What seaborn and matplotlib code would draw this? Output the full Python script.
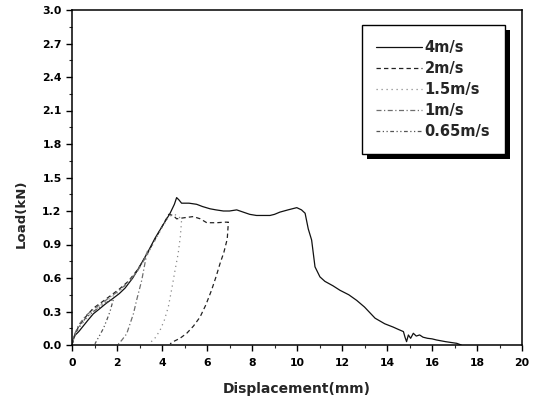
import matplotlib
matplotlib.use("Agg")
import matplotlib.pyplot as plt
from matplotlib.patches import Rectangle
from matplotlib.transforms import IdentityTransform
from matplotlib.ticker import MultipleLocator, FormatStrFormatter
import seaborn as sns
import pandas as pd

# Load-displacement records for each impact speed
speeds = ["4m/s", "2m/s", "1.5m/s", "1m/s", "0.65m/s"]

disp_4 = [0, 0.05, 0.15, 0.3, 0.5, 0.7, 0.95, 1.2, 1.5, 1.84, 2.1, 2.36, 2.7, 3.0, 3.39,
          3.7, 4.0, 4.36, 4.55, 4.65, 4.75, 4.87, 5.2, 5.54, 5.8, 6.13, 6.4, 6.73, 7.0,
          7.32, 7.61, 7.9, 8.2, 8.5, 8.8, 9.0, 9.24, 9.6, 9.99, 10.2, 10.36, 10.5, 10.65,
          10.8, 11.02, 11.24, 11.6, 11.91, 12.3, 12.65, 13.0, 13.47, 13.9, 14.28, 14.5,
          14.73, 14.8, 14.87, 14.95, 15.05, 15.17, 15.3, 15.45, 15.6, 15.8, 16.0, 16.2,
          16.6, 17.1, 17.3]
load_4 = [0, 0.05, 0.09, 0.12, 0.17, 0.22, 0.28, 0.32, 0.37, 0.42, 0.46, 0.51, 0.60, 0.70,
          0.84, 0.96, 1.06, 1.18, 1.26, 1.32, 1.30, 1.27, 1.27, 1.26, 1.24, 1.22, 1.21,
          1.20, 1.20, 1.21, 1.19, 1.17, 1.16, 1.16, 1.16, 1.17, 1.19, 1.21, 1.23, 1.21,
          1.18, 1.04, 0.94, 0.70, 0.61, 0.57, 0.53, 0.49, 0.45, 0.40, 0.34, 0.24, 0.19,
          0.16, 0.14, 0.12, 0.07, 0.03, 0.09, 0.06, 0.105, 0.08, 0.09, 0.07, 0.06, 0.055,
          0.045, 0.03, 0.015, 0.0]

disp_2 = [0, 0.1, 0.3, 0.6, 0.95, 1.3, 1.7, 2.1, 2.5, 2.9, 3.3, 3.7, 4.0, 4.3, 4.5, 4.65,
          5.0, 5.39, 5.7, 5.99, 6.43, 6.8, 6.95, 6.9, 6.75, 6.58, 6.4, 6.2, 5.95, 5.69,
          5.4, 5.1, 4.8, 4.5, 4.36]
load_2 = [0, 0.08, 0.17, 0.25, 0.33, 0.38, 0.44, 0.50, 0.57, 0.67, 0.80, 0.95, 1.06, 1.17,
          1.16, 1.13, 1.14, 1.15, 1.13, 1.095, 1.095, 1.10, 1.10, 0.95, 0.83, 0.73, 0.61,
          0.49, 0.36, 0.25, 0.17, 0.105, 0.06, 0.03, 0.01]

disp_15 = [0, 0.1, 0.3, 0.6, 0.95, 1.3, 1.7, 2.1, 2.5, 2.9, 3.3, 3.7, 4.0, 4.3, 4.55,
           4.75, 4.87, 4.82, 4.72, 4.58, 4.45, 4.28, 4.1, 3.91, 3.65, 3.39]
load_15 = [0, 0.07, 0.15, 0.23, 0.30, 0.36, 0.42, 0.48, 0.56, 0.66, 0.79, 0.94, 1.05, 1.15,
           1.17, 1.15, 1.12, 0.98, 0.82, 0.67, 0.52, 0.34, 0.22, 0.13, 0.05, 0.01]

disp_1 = [0, 0.1, 0.3, 0.6, 0.95, 1.3, 1.7, 2.1, 2.5, 2.9, 3.2, 3.35, 3.24, 3.1, 2.87,
          2.73, 2.43, 2.2, 2.06]
load_1 = [0, 0.09, 0.18, 0.26, 0.32, 0.37, 0.43, 0.49, 0.56, 0.66, 0.76, 0.84, 0.73, 0.58,
          0.40, 0.28, 0.10, 0.04, 0.01]

disp_065 = [0, 0.1, 0.3, 0.6, 0.95, 1.3, 1.6, 1.84, 1.69, 1.54, 1.4, 1.24, 1.1, 1.02]
load_065 = [0, 0.08, 0.16, 0.24, 0.30, 0.35, 0.39, 0.41, 0.30, 0.22, 0.15, 0.09, 0.04, 0.01]

x_ticks = [0, 2, 4, 6, 8, 10, 12, 14, 16, 18, 20]
y_ticks = [0.0, 0.3, 0.6, 0.9, 1.2, 1.5, 1.8, 2.1, 2.4, 2.7, 3.0]

sns.set_style("ticks")
plt.rcParams["font.family"] = ["DejaVu Sans"]
plt.rcParams["font.weight"] = "bold"

fig = plt.figure(figsize=(5.41, 3.99), dpi=100)
ax = fig.add_axes([72 / 541, 1 - 345 / 399, 450 / 541, 335 / 399])

series = [
    (disp_4, load_4, "#111111", "-"),
    (disp_2, load_2, "#222222", (0, (3.5, 2.5))),
    (disp_15, load_15, "#8a8a8a", (0, (1, 3))),
    (disp_1, load_1, "#6e6e6e", (0, (4, 2, 1, 2))),
    (disp_065, load_065, "#555555", (0, (3, 2, 1, 2, 1, 2))),
]
for name, (xs, ys, col, ls) in zip(speeds, series):
    df = pd.DataFrame({"disp": xs, "load": ys})
    sns.lineplot(data=df, x="disp", y="load", sort=False, estimator=None,
                 color=col, linestyle=ls, linewidth=0.9, label=name, ax=ax)

ax.set_xlim(0, 20)
ax.set_ylim(0, 3.0)
ax.set_xticks(x_ticks)
ax.set_yticks(y_ticks)
ax.xaxis.set_minor_locator(MultipleLocator(1))
ax.yaxis.set_minor_locator(MultipleLocator(0.15))
ax.yaxis.set_major_formatter(FormatStrFormatter("%.1f"))
ax.tick_params(which="major", direction="out", length=4, width=1, labelsize=7.8,
               pad=3.5, colors="black")
ax.tick_params(axis="x", which="major", pad=5)
ax.tick_params(which="minor", direction="out", length=2, width=0.8)
for sp in ax.spines.values():
    sp.set_linewidth(1.1)
    sp.set_color("black")

ax.set_xlabel("Displacement(mm)", fontsize=10, fontweight="bold")
ax.set_ylabel("Load(kN)", fontsize=9.5, fontweight="bold")
ax.xaxis.set_label_coords(0.5, -0.109)
ax.yaxis.set_label_coords(-0.098, 0.391)

leg = ax.legend(loc="upper left", bbox_to_anchor=(0.644, 0.955), borderaxespad=0,
                fancybox=False, framealpha=1, edgecolor="black", handlelength=3.1,
                handletextpad=0.2, borderpad=1.0, labelspacing=0.42,
                prop={"size": 10.5, "weight": "bold"})
leg.get_frame().set_linewidth(1.0)
leg.set_zorder(6)

# drop shadow behind the legend frame
fig.canvas.draw()
bb = leg.get_window_extent()
ax.add_patch(Rectangle((bb.x0 + 5, bb.y0 - 5), bb.width, bb.height,
                       transform=IdentityTransform(), facecolor="black",
                       edgecolor="none", zorder=5.5, clip_on=False))

fig.savefig("out.png", dpi=100)
